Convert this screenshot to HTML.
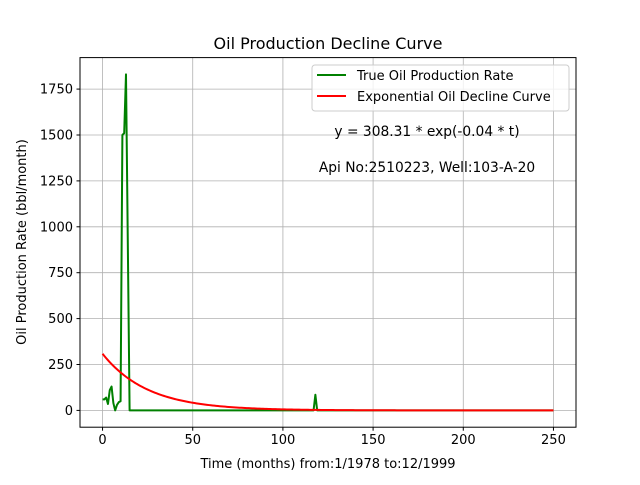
<!DOCTYPE html>
<html><head><meta charset="utf-8"><style>
body{margin:0;background:#fff;}
svg text{font-family:"DejaVu Sans","Liberation Sans",sans-serif;fill:#000;}
</style></head><body>
<svg id="chart" width="640" height="480" viewBox="0 0 640 480" xmlns="http://www.w3.org/2000/svg">
<rect width="640" height="480" fill="#fff"/>
<g id="grid"></g>
<g id="series"></g>
<rect x="80" y="57.6" width="496" height="369.6" fill="none" stroke="#000" stroke-width="1"/>
<g id="ticks"></g>
<text x="328" y="49" font-size="16" text-anchor="middle">Oil Production Decline Curve</text>
<text x="328" y="468" font-size="13" text-anchor="middle">Time (months) from:1/1978 to:12/1999</text>
<text x="26" y="242" font-size="13" text-anchor="middle" transform="rotate(-90 26 242)">Oil Production Rate (bbl/month)</text>
<g>
<rect x="312" y="65" width="257" height="46" rx="3" fill="#fff" fill-opacity="0.8" stroke="#ccc"/>
<line x1="317" y1="75" x2="346" y2="75" stroke="#008000" stroke-width="2"/>
<text x="357" y="80" font-size="13">True Oil Production Rate</text>
<line x1="317" y1="96" x2="346" y2="96" stroke="#ff0000" stroke-width="2"/>
<text x="357" y="101" font-size="13">Exponential Oil Decline Curve</text>
</g>
<text x="427" y="136" font-size="13.8" text-anchor="middle">y = 308.31 * exp(-0.04 * t)</text>
<text x="427" y="172" font-size="13.8" text-anchor="middle">Api No:2510223, Well:103-A-20</text>
</svg>
<script>
const trueMonths = [0,1,2,3,4,5,6,7,8,9,10,11,12,13,14,15,117,118,119,250];
const trueValues = [60,60,70,35,110,130,40,0,30,45,50,1500,1510,1830,915,0,0,85,0,0];
const fitA = [308.31];
const fitB = [-0.04];
const fitRange = [0,250];
const xTicks = [0,50,100,150,200,250];
const yTicks = [0,250,500,750,1000,1250,1500,1750];

const NS="http://www.w3.org/2000/svg";
const L=80,R=576,T=57.6,B=427.2;
const xMin=-12.5,xMax=262.5,yMin=-91.5,yMax=1921.5;
const X=v=>L+(v-xMin)/(xMax-xMin)*(R-L);
const Y=v=>B-(v-yMin)/(yMax-yMin)*(B-T);
function mk(tag,attrs,parent){const e=document.createElementNS(NS,tag);for(const k in attrs)e.setAttribute(k,attrs[k]);parent.appendChild(e);return e;}
const grid=document.getElementById('grid'),ticks=document.getElementById('ticks'),series=document.getElementById('series');
xTicks.forEach(t=>{
  const g=mk('line',{x1:X(t),x2:X(t),y1:T,y2:B,stroke:'#b0b0b0','stroke-width':0.8},grid);
  
  
  const tk=mk('line',{x1:X(t),x2:X(t),y1:B,y2:B+3.5,stroke:'#000'},ticks);
  
  
  const tx=mk('text',{x:X(t),y:B+17,'font-size':13,'text-anchor':'middle'},ticks);
  tx.textContent=t;
  
  
});
yTicks.forEach(t=>{
  const g=mk('line',{x1:L,x2:R,y1:Y(t),y2:Y(t),stroke:'#b0b0b0','stroke-width':0.8},grid);
  
  
  const tk=mk('line',{x1:L-3.5,x2:L,y1:Y(t),y2:Y(t),stroke:'#000'},ticks);
  
  
  const tx=mk('text',{x:L-7,y:Y(t)+4.5,'font-size':13,'text-anchor':'end'},ticks);
  tx.textContent=t;
  
  
});
const tp=trueMonths.map((m,i)=>X(m).toFixed(2)+','+Y(trueValues[i]).toFixed(2)).join(' ');
const gl=mk('polyline',{points:tp,fill:'none',stroke:'#008000','stroke-width':2,'stroke-linejoin':'round'},series);


const fp=[];
for(let t=fitRange[0];t<=fitRange[1];t++){fp.push(X(t).toFixed(2)+','+Y(fitA[0]*Math.exp(fitB[0]*t)).toFixed(2));}
const rl=mk('polyline',{points:fp.join(' '),fill:'none',stroke:'#ff0000','stroke-width':2},series);


</script>
</body></html>
